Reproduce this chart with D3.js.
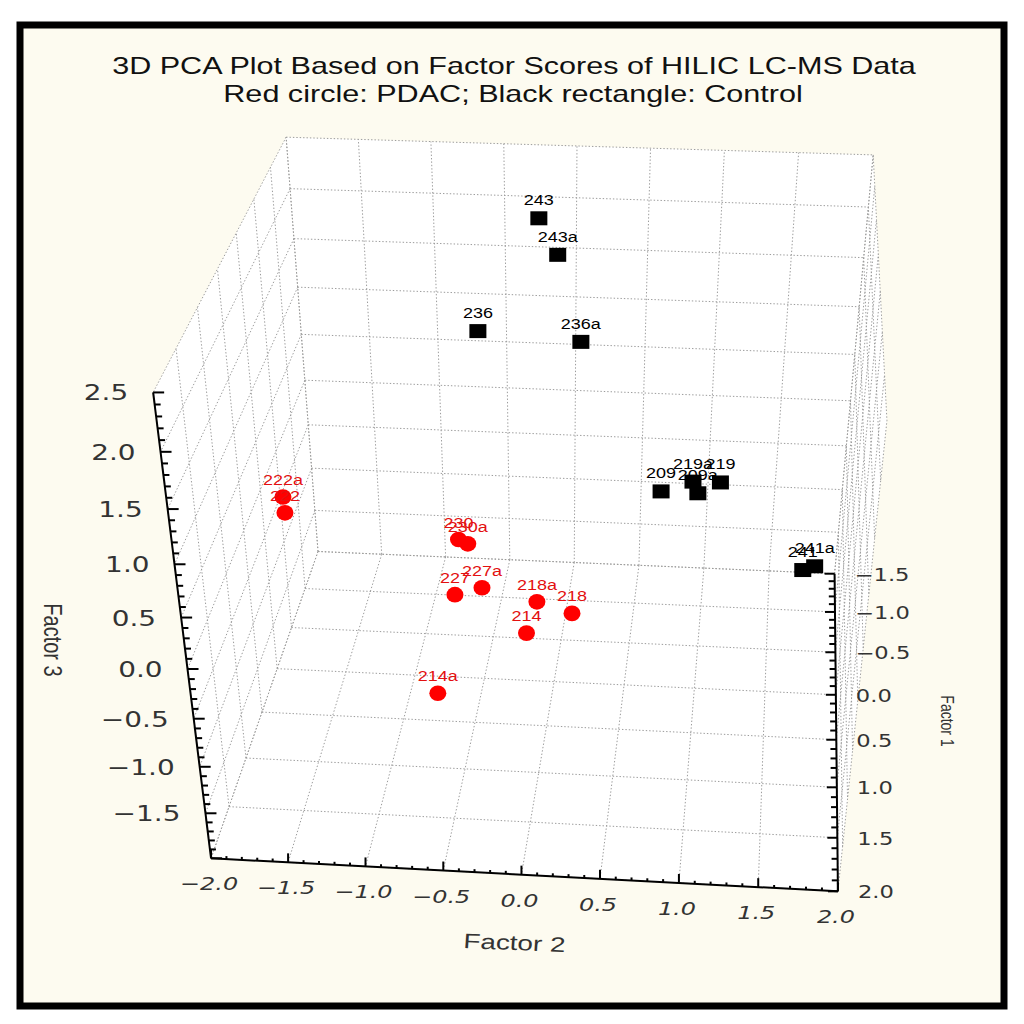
<!DOCTYPE html>
<html>
<head>
<meta charset="utf-8">
<script src="https://cdn.jsdelivr.net/npm/d3@7"></script>
<style>body{margin:0;background:#fff}</style>
</head>
<body>
<svg id="chart" width="1024" height="1024"></svg>
<script>
// ---------------- data (factor scores) ----------------
var pdacIds = ["222a","222","230","230a","227","227a","218a","218","214","214a"];
var pdacF1  = [0.8, 0.9, 0.6, 0.6, 1.0, 0.9, 0.7, 0.8, 1.2, 1.6];
var pdacF2  = [-1.64, -1.61, -0.56, -0.50, -0.53, -0.37, -0.04, 0.20, -0.05, -0.56];
var pdacF3  = [0.62, 0.55, 0.09, 0.05, -0.11, -0.12, -0.43, -0.44, -0.28, -0.54];

var ctrlIds = ["243","243a","236","236a","209","219a","209a","219","241","241a"];
var ctrlF1  = [-1.3, -1.2, -0.9, -0.8, -0.6, -0.6, -0.5, -0.7, -1.1, -1.2];
var ctrlF2  = [-0.24, -0.10, -0.62, 0.10, 0.69, 0.91, 0.95, 1.10, 1.74, 1.83];
var ctrlF3  = [1.91, 1.62, 1.03, 1.03, -0.35, -0.23, -0.27, -0.31, -1.61, -1.65];

var f1Ticks = [-1.5,-1.0,-0.5,0.0,0.5,1.0,1.5,2.0];
var f2Ticks = [-2.0,-1.5,-1.0,-0.5,0.0,0.5,1.0,1.5,2.0];
var f3Ticks = [-2.0,-1.5,-1.0,-0.5,0.0,0.5,1.0,1.5,2.0,2.5];

// camera set-up: where box corners / ticks land on the page [F2, F1, F3, x, y]
var calib = [
  [-2,-1.5,2.5,287,137],[2,-1.5,2.5,872,155],[-2,-1.5,-2,317,550],[2,-1.5,-2,836,575],
  [-2,2,-2,211,858],[2,2,-2,839,890],[-2,2,2.5,153,393],
  [-2,2,2.0,160,452],[-2,2,1.0,174,563],[-2,2,0,187.5,670],[-2,2,-1,200,768],
  [-1,2,-2,366,866],[0,2,-2,522,874],[1,2,-2,678,882],
  [2,-0.5,-2,834,653],[2,0,-2,835,693],[2,0.5,-2,836,740],[2,1,-2,837,788],[2,1.5,-2,838,840],
  [-1,-1.5,2.5,431,141],[0,-1.5,2.5,578,146],[1,-1.5,2.5,724,150],
  [-2,-1.5,0,305,382],[2,-1.5,0,851,400]
];

var SX = 1.33;   // the original figure is stretched horizontally
var svg = d3.select("#chart");

var xs = d3.scaleLinear().domain([-2,2]).range([0,1]);     // Factor 2
var ds = d3.scaleLinear().domain([-1.5,2]).range([0,1]);   // Factor 1 (depth)
var zs = d3.scaleLinear().domain([-2,2.5]).range([0,1]);   // Factor 3

function solve(A, b) {
  var n = b.length, M = A.map(function(r, i) { return r.concat([b[i]]); });
  for (var c = 0; c < n; c++) {
    var p = c;
    for (var r = c + 1; r < n; r++) if (Math.abs(M[r][c]) > Math.abs(M[p][c])) p = r;
    var t = M[c]; M[c] = M[p]; M[p] = t;
    for (var r = c + 1; r < n; r++) {
      var f = M[r][c] / M[c][c];
      for (var k = c; k <= n; k++) M[r][k] -= f * M[c][k];
    }
  }
  var x = new Array(n);
  for (var r = n - 1; r >= 0; r--) {
    var s = M[r][n];
    for (var k = r + 1; k < n; k++) s -= M[r][k] * x[k];
    x[r] = s / M[r][r];
  }
  return x;
}

// fit a projective camera (DLT) to the calibration points
var rows = [], rhs = [];
calib.forEach(function(c) {
  var a = xs(c[0]), b = ds(c[1]), z = zs(c[2]);
  var X = (c[3] - 512) / 400, Y = (c[4] - 512) / 400;
  rows.push([a, b, z, 1, 0, 0, 0, 0, -X * a, -X * b, -X * z]); rhs.push(X);
  rows.push([0, 0, 0, 0, a, b, z, 1, -Y * a, -Y * b, -Y * z]); rhs.push(Y);
});
var AtA = d3.range(11).map(function(i) { return d3.range(11).map(function(j) {
  return d3.sum(rows, function(r) { return r[i] * r[j]; }); }); });
var Atb = d3.range(11).map(function(i) { return d3.sum(rows, function(r, k) { return r[i] * rhs[k]; }); });
var m = solve(AtA, Atb);
var M0 = m.slice(0, 4), M1 = m.slice(4, 8), M2 = m.slice(8, 11).concat([1]);

function proj(f2, f1, f3) {
  var X = [xs(f2), ds(f1), zs(f3), 1];
  var w = d3.sum(M2, function(v, i) { return v * X[i]; });
  return [512 + 400 * d3.sum(M0, function(v, i) { return v * X[i]; }) / w,
          512 + 400 * d3.sum(M1, function(v, i) { return v * X[i]; }) / w];
}
// camera position, to decide which inner walls face the viewer
var cam = solve([[M0[0],M0[1],M0[2]],[M1[0],M1[1],M1[2]],[M2[0],M2[1],M2[2]]], [-M0[3],-M1[3],-M2[3]]);

// ---------------- frame + titles ----------------
svg.append("rect").attr("x", 20).attr("y", 25).attr("width", 984).attr("height", 981)
  .attr("fill", "#fdfbf0").attr("stroke", "#000").attr("stroke-width", 7);

function txt(g, x, y, s, size, anchor, opts) {
  opts = opts || {};
  var t = g.append("text")
    .attr("transform", "translate(" + x + "," + y + ") scale(" + (opts.sx || SX) + ",1)" + (opts.rot ? " rotate(" + opts.rot + ")" : ""))
    .attr("text-anchor", anchor).attr("font-size", size)
    .attr("font-family", opts.family || "'Liberation Sans', Arial, sans-serif")
    .attr("fill", opts.fill || "#111").text(s);
  if (opts.italic) t.attr("font-style", "italic");
  return t;
}

txt(svg, 514, 74, "3D PCA Plot Based on Factor Scores of HILIC LC-MS Data", 23, "middle");
txt(svg, 513, 102, "Red circle: PDAC; Black rectangle: Control", 23, "middle");

// ---------------- box faces + grid ----------------
var faces = [];
if (cam[1] > 0) faces.push({ corners: [[-2,-1.5,-2],[2,-1.5,-2],[2,-1.5,2.5],[-2,-1.5,2.5]],
  lines: f2Ticks.map(function(u) { return [[u,-1.5,-2],[u,-1.5,2.5]]; })
    .concat(f3Ticks.map(function(w) { return [[-2,-1.5,w],[2,-1.5,w]]; })) });
if (cam[2] > 0) faces.push({ corners: [[-2,-1.5,-2],[2,-1.5,-2],[2,2,-2],[-2,2,-2]],
  lines: f2Ticks.map(function(u) { return [[u,-1.5,-2],[u,2,-2]]; })
    .concat(f1Ticks.map(function(v) { return [[-2,v,-2],[2,v,-2]]; })) });
[-2, 2].forEach(function(u, k) {
  var vis = k === 0 ? cam[0] > 0 : cam[0] < 1;
  if (!vis) return;
  faces.push({ corners: [[u,-1.5,-2],[u,2,-2],[u,2,2.5],[u,-1.5,2.5]],
    lines: f1Ticks.map(function(v) { return [[u,v,-2],[u,v,2.5]]; })
      .concat(f3Ticks.map(function(w) { return [[u,-1.5,w],[u,2,w]]; })) });
});

var line = d3.line();
var gFaces = svg.append("g");
faces.forEach(function(f) {
  gFaces.append("path").attr("d", line(f.corners.map(function(c) { return proj(c[0], c[1], c[2]); })) + "Z")
    .attr("fill", "#fff").attr("stroke", "none");
});
var gGrid = svg.append("g").attr("stroke", "#9c9c9c").attr("stroke-width", 1)
  .attr("stroke-dasharray", "1.4,2").attr("fill", "none");
faces.forEach(function(f) {
  f.lines.forEach(function(l) {
    gGrid.append("path").attr("d", line(l.map(function(c) { return proj(c[0], c[1], c[2]); })));
  });
});

// ---------------- axes ----------------
var gAx = svg.append("g");
function axisLine(a, b) {
  gAx.append("path").attr("d", line([proj.apply(null, a), proj.apply(null, b)]))
    .attr("stroke", "#000").attr("stroke-width", 2).attr("fill", "none");
}
function tick(p, dx, dy) {
  gAx.append("path").attr("d", line([p, [p[0] + dx, p[1] + dy]]))
    .attr("stroke", "#000").attr("stroke-width", 2).attr("fill", "none");
}
var TF = "'DejaVu Sans', Verdana, sans-serif";
// Factor 3 (vertical, front-left edge)
axisLine([-2,2,-2], [-2,2,2.5]);
d3.range(-20, 26).forEach(function(k) {
  var p = proj(-2, 2, k / 10);
  tick(p, k % 5 === 0 ? 11 : 6, 0);
});
f3Ticks.forEach(function(t) {
  if (t === -2) return;
  var p = proj(-2, 2, t);
  txt(gAx, p[0] - 25, p[1] + 8, d3.format(".1f")(t), 21, "end", { family: TF, fill: "#333" });
});
// Factor 2 (front-bottom edge)
axisLine([-2,2,-2], [2,2,-2]);
d3.range(-20, 21).forEach(function(k) {
  var p = proj(k / 10, 2, -2);
  tick(p, 0, k % 5 === 0 ? -9 : -3);
});
f2Ticks.forEach(function(t) {
  var p = proj(t, 2, -2);
  txt(gAx, p[0] - 2, p[1] + 32, d3.format(".1f")(t), 18, "middle", { family: TF, fill: "#333", italic: true });
});
// Factor 1 (depth, right floor edge)
axisLine([2,-1.5,-2], [2,2,-2]);
d3.range(-15, 21).forEach(function(k) {
  var p = proj(2, k / 10, -2);
  tick(p, k % 5 === 0 ? -10 : -6, 0);
});
f1Ticks.forEach(function(t) {
  var p = proj(2, t, -2);
  txt(gAx, p[0] + 20, p[1] + 7, d3.format(".1f")(t), 17, "start", { family: TF, fill: "#333" });
});

txt(svg, 514, 950, "Factor 2", 21, "middle", { fill: "#333", rot: 3 });
txt(svg, 44, 640, "Factor 3", 20, "middle", { fill: "#333", rot: 90 });
txt(svg, 941, 721, "Factor 1", 14, "middle", { fill: "#333", rot: 90 });

// ---------------- points ----------------
var pts = [];
pdacIds.forEach(function(id, i) { pts.push({ id: id, f1: pdacF1[i], f2: pdacF2[i], f3: pdacF3[i], g: "pdac" }); });
ctrlIds.forEach(function(id, i) { pts.push({ id: id, f1: ctrlF1[i], f2: ctrlF2[i], f3: ctrlF3[i], g: "ctrl" }); });
pts.sort(function(a, b) { return a.f1 - b.f1; });

var gPts = svg.append("g");
pts.forEach(function(d) {
  var p = proj(d.f2, d.f1, d.f3);
  if (d.g === "pdac") {
    gPts.append("ellipse").attr("cx", p[0]).attr("cy", p[1]).attr("rx", 8.5).attr("ry", 7.8).attr("fill", "#ff0000");
    txt(gPts, p[0], p[1] - 12, d.id, 15, "middle", { fill: "#e31010", sx: 1.2 });
  } else {
    gPts.append("rect").attr("x", p[0] - 8.5).attr("y", p[1] - 7).attr("width", 17).attr("height", 14).attr("fill", "#000");
    txt(gPts, p[0], p[1] - 13, d.id, 15, "middle", { fill: "#000", sx: 1.2 });
  }
});
</script>
</body>
</html>
